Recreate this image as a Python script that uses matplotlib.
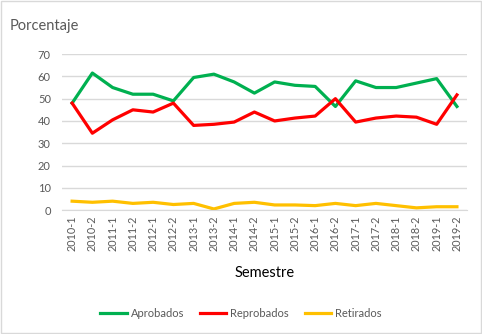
import matplotlib
matplotlib.use('Agg')
import matplotlib.pyplot as plt
from matplotlib.patches import Rectangle

plt.rcParams['font.family'] = ['Lato', 'DejaVu Sans']

# Datos
semestres = ['2010-1', '2010-2', '2011-1', '2011-2', '2012-1', '2012-2', '2013-1', '2013-2',
             '2014-1', '2014-2', '2015-1', '2015-2', '2016-1', '2016-2', '2017-1', '2017-2',
             '2018-1', '2018-2', '2019-1', '2019-2']
aprobados = [48, 61.5, 55, 52, 52, 49, 59.5, 61, 57.5, 52.5, 57.5, 56, 55.5, 46.5,
             58, 55, 55, 57, 59, 46.5]
reprobados = [48, 34.5, 40.5, 45, 44, 48, 38, 38.5, 39.5, 44, 40, 41.3, 42.2, 50,
              39.5, 41.3, 42.2, 41.7, 38.5, 51.7]
retirados = [4, 3.5, 4, 3, 3.5, 2.5, 3, 0.5, 3, 3.5, 2.3, 2.3, 2, 3, 2, 3, 2, 1, 1.5, 1.5]

gris = '#595959'

fig = plt.figure(figsize=(4.82, 3.34), dpi=100)
# borde del grafico
fig.patches.append(Rectangle((0.002, 0.003), 0.995, 0.994, transform=fig.transFigure,
                             fill=False, edgecolor='#D9D9D9', linewidth=1))

ax = fig.add_axes([0.1286, 0.371, 0.8404, 0.467])
x = range(len(semestres))
ax.plot(x, aprobados, color='#00B050', linewidth=2.3, label='Aprobados')
ax.plot(x, reprobados, color='#FF0000', linewidth=2.3, label='Reprobados')
ax.plot(x, retirados, color='#FFC000', linewidth=2.3, label='Retirados')

ax.set_xlim(-0.5, len(semestres) - 0.5)
ax.set_ylim(0, 70)
ax.set_yticks(range(0, 71, 10))
ax.set_xticks(list(x))
ax.set_xticklabels(semestres, rotation=90, fontsize=7.8, color=gris)
ax.tick_params(axis='y', labelsize=8, colors=gris, length=0, pad=8)
ax.tick_params(axis='x', length=0, pad=4)
ax.grid(axis='y', color='#D9D9D9', linewidth=1)
ax.set_axisbelow(True)
for s in ['top', 'right', 'left']:
    ax.spines[s].set_visible(False)
ax.spines['bottom'].set_color('#D9D9D9')

ax.set_xlabel('Semestre', fontsize=10.5, color='black', labelpad=11)
fig.text(0.02, 0.91, 'Porcentaje', fontsize=10.5, color=gris)

fig.legend(loc='center', bbox_to_anchor=(0.5, 0.062), ncol=3, frameon=False,
           fontsize=8, labelcolor=gris, handlelength=2.35, columnspacing=1.45,
           handletextpad=0.36)

fig.savefig('out.png', dpi=100)
